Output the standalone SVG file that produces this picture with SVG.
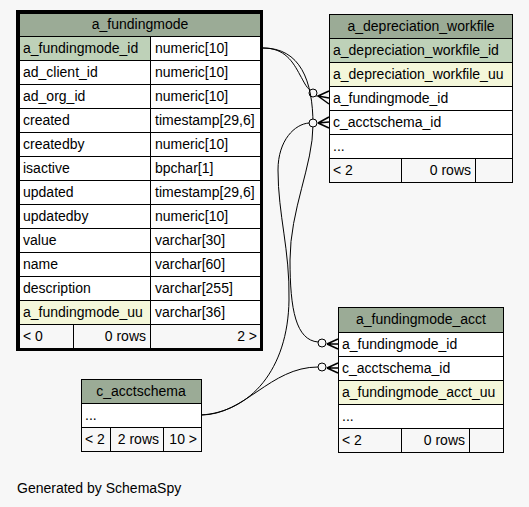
<svg xmlns="http://www.w3.org/2000/svg" width="529" height="507" viewBox="0 0 529 507">
<style>
text{font-family:"Liberation Sans",Arial,sans-serif;font-size:14px;fill:#000}
.h{fill:#9bab96;stroke:#000;stroke-width:1}
.c{fill:#fff;stroke:#000;stroke-width:1}
.pk{fill:#bed1b8;stroke:#000;stroke-width:1}
.uu{fill:#f4f7da;stroke:#000;stroke-width:1}
.f{fill:#f7f7f7;stroke:#000;stroke-width:1}
.m{text-anchor:middle}
.r{text-anchor:end}
.e{fill:none;stroke:#000;stroke-width:1}
.o{fill:#f7f7f7;stroke:#000;stroke-width:1}
.cr{fill:none;stroke:#000;stroke-width:1.5}
</style>
<rect width="529" height="507" fill="#f7f7f7"/>

<g id="connectors">
<path class="e" d="M263,48 C285,48 293,62 300,75 C304,82 306,87 310,90"/>
<circle class="o" cx="313" cy="93" r="4"/>
<path class="cr" d="M329,91 L318,96 L329,98 M318,96 L329,104"/>

<path class="e" d="M263,48 C300,48 313,80 313,125 C313,165 290,210 290,260 C290,310 296,340 318,342"/>
<circle class="o" cx="322" cy="343" r="4"/>
<path class="cr" d="M338,339 L327,344 L338,344 M327,344 L338,349"/>

<path class="e" d="M201,415 C250,412 288,370 289,300 C290,250 278,215 278,170 C278,140 295,124 309,123"/>
<circle class="o" cx="313" cy="123" r="4"/>
<path class="cr" d="M329,117 L318,123 L329,122 M318,123 L329,128"/>

<path class="e" d="M201,415 C245,415 270,367 318,367"/>
<circle class="o" cx="322" cy="367" r="4"/>
<path class="cr" d="M338,363 L327,368 L338,368 M327,368 L338,373"/>
</g>

<g id="a_fundingmode">
<rect x="17.5" y="11.5" width="244" height="338" fill="none" stroke="#000" stroke-width="3"/>
<rect class="h" x="19.5" y="13.5" width="241" height="23"/>
<text class="m" x="140" y="29">a_fundingmode</text>
<rect class="pk" x="19.5" y="36.5" width="131" height="24"/><rect class="c" x="150.5" y="36.5" width="110" height="24"/>
<text x="23" y="53">a_fundingmode_id</text><text x="155" y="53">numeric[10]</text>
<rect class="c" x="19.5" y="60.5" width="131" height="24"/><rect class="c" x="150.5" y="60.5" width="110" height="24"/>
<text x="23" y="77">ad_client_id</text><text x="155" y="77">numeric[10]</text>
<rect class="c" x="19.5" y="84.5" width="131" height="24"/><rect class="c" x="150.5" y="84.5" width="110" height="24"/>
<text x="23" y="101">ad_org_id</text><text x="155" y="101">numeric[10]</text>
<rect class="c" x="19.5" y="108.5" width="131" height="24"/><rect class="c" x="150.5" y="108.5" width="110" height="24"/>
<text x="23" y="125">created</text><text x="155" y="125">timestamp[29,6]</text>
<rect class="c" x="19.5" y="132.5" width="131" height="24"/><rect class="c" x="150.5" y="132.5" width="110" height="24"/>
<text x="23" y="149">createdby</text><text x="155" y="149">numeric[10]</text>
<rect class="c" x="19.5" y="156.5" width="131" height="24"/><rect class="c" x="150.5" y="156.5" width="110" height="24"/>
<text x="23" y="173">isactive</text><text x="155" y="173">bpchar[1]</text>
<rect class="c" x="19.5" y="180.5" width="131" height="24"/><rect class="c" x="150.5" y="180.5" width="110" height="24"/>
<text x="23" y="197">updated</text><text x="155" y="197">timestamp[29,6]</text>
<rect class="c" x="19.5" y="204.5" width="131" height="24"/><rect class="c" x="150.5" y="204.5" width="110" height="24"/>
<text x="23" y="221">updatedby</text><text x="155" y="221">numeric[10]</text>
<rect class="c" x="19.5" y="228.5" width="131" height="24"/><rect class="c" x="150.5" y="228.5" width="110" height="24"/>
<text x="23" y="245">value</text><text x="155" y="245">varchar[30]</text>
<rect class="c" x="19.5" y="252.5" width="131" height="24"/><rect class="c" x="150.5" y="252.5" width="110" height="24"/>
<text x="23" y="269">name</text><text x="155" y="269">varchar[60]</text>
<rect class="c" x="19.5" y="276.5" width="131" height="24"/><rect class="c" x="150.5" y="276.5" width="110" height="24"/>
<text x="23" y="293">description</text><text x="155" y="293">varchar[255]</text>
<rect class="uu" x="19.5" y="300.5" width="131" height="24"/><rect class="c" x="150.5" y="300.5" width="110" height="24"/>
<text x="23" y="317">a_fundingmode_uu</text><text x="155" y="317">varchar[36]</text>
<rect class="f" x="19.5" y="324.5" width="54" height="24"/><rect class="f" x="73.5" y="324.5" width="77" height="24"/><rect class="f" x="150.5" y="324.5" width="110" height="24"/>
<text x="23" y="341">&lt; 0</text><text class="r" x="146" y="341">0 rows</text><text class="r" x="257" y="341">2 &gt;</text>
</g>

<g id="a_depreciation_workfile">
<rect class="h" x="329.5" y="14.5" width="183" height="24"/>
<text class="m" x="421" y="31">a_depreciation_workfile</text>
<rect class="pk" x="329.5" y="38.5" width="183" height="24"/>
<text x="333" y="55">a_depreciation_workfile_id</text>
<rect class="uu" x="329.5" y="62.5" width="183" height="24"/>
<text x="333" y="79">a_depreciation_workfile_uu</text>
<rect class="c" x="329.5" y="86.5" width="183" height="24"/>
<text x="333" y="103">a_fundingmode_id</text>
<rect class="c" x="329.5" y="110.5" width="183" height="24"/>
<text x="333" y="127">c_acctschema_id</text>
<rect class="c" x="329.5" y="134.5" width="183" height="24"/>
<text x="333" y="151">...</text>
<rect class="f" x="329.5" y="158.5" width="72" height="24"/><rect class="f" x="401.5" y="158.5" width="74" height="24"/><rect class="f" x="475.5" y="158.5" width="37" height="24"/>
<text x="333" y="175">&lt; 2</text><text class="r" x="471" y="175">0 rows</text>
</g>

<g id="a_fundingmode_acct">
<rect class="h" x="338.5" y="307.5" width="165" height="25"/>
<text class="m" x="421" y="324">a_fundingmode_acct</text>
<rect class="c" x="338.5" y="332.5" width="165" height="24"/>
<text x="342" y="349">a_fundingmode_id</text>
<rect class="c" x="338.5" y="356.5" width="165" height="24"/>
<text x="342" y="373">c_acctschema_id</text>
<rect class="uu" x="338.5" y="380.5" width="165" height="24"/>
<text x="342" y="397">a_fundingmode_acct_uu</text>
<rect class="c" x="338.5" y="404.5" width="165" height="24"/>
<text x="342" y="421">...</text>
<rect class="f" x="338.5" y="428.5" width="63" height="24"/><rect class="f" x="401.5" y="428.5" width="68" height="24"/><rect class="f" x="469.5" y="428.5" width="34" height="24"/>
<text x="342" y="445">&lt; 2</text><text class="r" x="465" y="445">0 rows</text>
</g>

<g id="c_acctschema">
<rect class="h" x="81.5" y="379.5" width="120" height="24"/>
<text class="m" x="141" y="396">c_acctschema</text>
<rect class="c" x="81.5" y="403.5" width="120" height="24"/>
<text x="85" y="420">...</text>
<rect class="f" x="81.5" y="427.5" width="29" height="24"/><rect class="f" x="110.5" y="427.5" width="53" height="24"/><rect class="f" x="163.5" y="427.5" width="38" height="24"/>
<text x="85" y="444">&lt; 2</text><text class="r" x="159" y="444">2 rows</text><text class="r" x="197" y="444">10 &gt;</text>
</g>

<text x="17" y="493">Generated by SchemaSpy</text>
</svg>
